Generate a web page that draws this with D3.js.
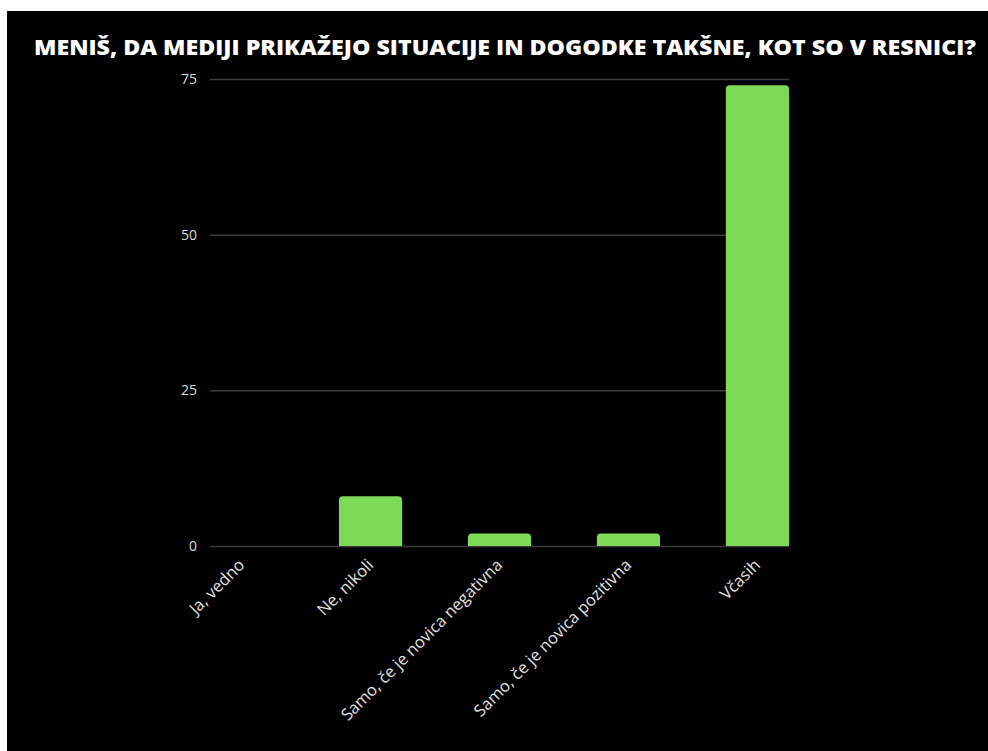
<!DOCTYPE html>
<html>
<head>
<meta charset="utf-8">
<script src="https://cdn.jsdelivr.net/npm/d3@7"></script>
<style>
  html, body { margin: 0; padding: 0; background: #fff; }
  svg { display: block; }
</style>
</head>
<body>
<script>
// survey answers and counts
const categories = ["Ja, vedno", "Ne, nikoli", "Samo, če je novica negativna", "Samo, če je novica pozitivna", "Včasih"];
const counts = [0, 8, 2, 2, 74];
const yTicks = [0, 25, 50, 75];
const title = "MENIŠ, DA MEDIJI PRIKAŽEJO SITUACIJE IN DOGODKE TAKŠNE, KOT SO V RESNICI?";

let width = 988,
    height = 751;

let svg = d3.select("body").append("svg")
    .attr("width", width)
    .attr("height", height);

// dark panel inside white frame
svg.append("rect")
    .attr("x", 7).attr("y", 11)
    .attr("width", width - 7).attr("height", height - 11)
    .attr("fill", "#000");

svg.append("text")
    .attr("x", 34).attr("y", 55)
    .attr("textLength", 942)
    .attr("lengthAdjust", "spacingAndGlyphs")
    .attr("font-family", "'Open Sans', sans-serif")
    .attr("font-weight", 800)
    .attr("font-size", 21.5)
    .attr("fill", "#fff")
    .text(title);

let x = d3.scaleBand()
    .domain(categories)
    .range([210, 789])
    .paddingInner(0.51)
    .paddingOuter(0);

let y = d3.scaleLinear()
    .domain([0, 75])
    .range([546, 79]);

// grid + y labels
let yAxis = svg.append("g")
    .attr("transform", "translate(210,0)")
    .call(d3.axisLeft(y).tickValues(yTicks).tickSize(-579).tickPadding(13));
yAxis.select(".domain").remove();
yAxis.selectAll(".tick line")
    .attr("stroke", "#3c3c3c")
    .attr("stroke-width", 1.5);
yAxis.selectAll(".tick text")
    .attr("fill", "#dcdcdc")
    .attr("font-family", "'Open Sans', sans-serif")
    .attr("font-size", 14);

// bars with rounded tops
let r = 4;
svg.append("g")
    .selectAll("path")
    .data(categories)
    .enter().append("path")
    .attr("fill", "#7ed957")
    .attr("d", (d, i) => {
        let x0 = x(d), w = x.bandwidth(),
            y0 = y(counts[i]), y1 = y(0);
        if (counts[i] <= 0) return null;
        let rr = Math.min(r, (y1 - y0));
        return `M${x0},${y1} V${y0 + rr} Q${x0},${y0} ${x0 + rr},${y0} H${x0 + w - rr} Q${x0 + w},${y0} ${x0 + w},${y0 + rr} V${y1} Z`;
    });

// rotated category labels
svg.append("g")
    .selectAll("text")
    .data(categories)
    .enter().append("text")
    .attr("transform", d => `translate(${x(d) + x.bandwidth() / 2 + 4},${566}) rotate(-45)`)
    .attr("text-anchor", "end")
    .attr("font-family", "'Open Sans', sans-serif")
    .attr("font-size", 16.5)
    .attr("fill", "#e0e0e0")
    .text(d => d);
</script>
</body>
</html>
